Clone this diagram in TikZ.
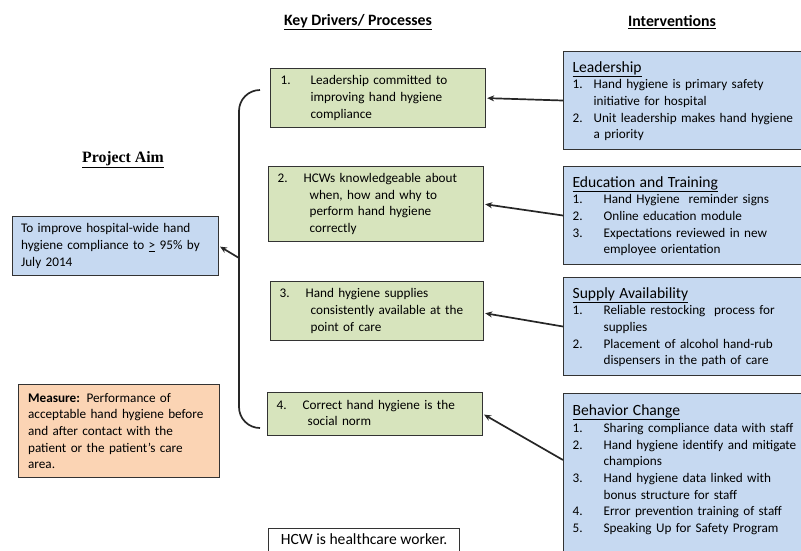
\documentclass[tikz,border=0pt]{standalone}
\usepackage{fontspec}
\setmainfont{Carlito}
\newfontfamily\aimfont{Liberation Serif}
\usepackage{tikz}
\usepackage{xcolor}
\usetikzlibrary{arrows.meta,positioning}
\definecolor{drvgreen}{HTML}{D7E4BD}
\definecolor{intblue}{HTML}{C6D9F1}
\definecolor{measorange}{HTML}{FBD4B4}
\definecolor{edgegray}{HTML}{333333}
\setlength{\parindent}{0pt}
\newcommand{\inttitle}[1]{\multicolumn{2}{@{}l@{}}{\rule{0pt}{15pt}\fontsize{15.6}{16.7}\selectfont\underline{#1}}}

\begin{document}
\begin{tikzpicture}[
    x=1pt, y=-1pt,
    >={Stealth[length=7pt,width=6pt]},
    font=\fontsize{13.2}{16.7}\selectfont,
    driveline/.style={->, line width=1.7pt, draw=black!85, shorten >=1pt},
    bracket/.style={line width=1.7pt, draw=black!85, rounded corners=21pt},
    heading/.style={font=\fontsize{15.8}{18}\selectfont\bfseries},
    box/.style={
      draw=edgegray,
      line width=1.2pt,
      anchor=north west,
      align=left,
      inner ysep=4pt,
      inner xsep=9pt
    },
    drvbox/.style={box, fill=drvgreen, text width=197pt},
    intbox/.style={box, fill=intblue, text width=250pt, inner ysep=5.5pt},
    aimbox/.style={box, fill=intblue}
  ]
    \useasboundingbox (0,0) rectangle (801,550);
    \clip (0,0) rectangle (801,550);

    % column headings
    \node[heading] (kdhead) at (358,22) {\underline{Key Drivers/ Processes}};
    \node[heading] (inthead) at (672,22) {\underline{Interventions}};
    \node[font=\aimfont\fontsize{15.8}{18}\selectfont\bfseries] (aimhead) at (123,160) {\underline{Project Aim}};

    % aim and measure
    \node[aimbox, text width=189pt, inner xsep=8.5pt, minimum height=59pt] (aim) at (12,216) {
      To improve hospital-wide hand\\
      hygiene compliance to \underline{>} 95\% by\\
      July 2014
    };
    \node[box, fill=measorange, text width=182pt, inner xsep=9.5pt, minimum height=93pt] (measure) at (18,384) {
      \textbf{Measure:} Performance of\\
      acceptable hand hygiene before\\
      and after contact with the\\
      patient or the patient’s care\\
      area.
    };

    % key drivers
    \node[drvbox, inner xsep=10pt, text width=195pt, minimum height=59pt] (drv1) at (270,68) {
      \begin{tabular}{@{}p{30pt}@{}l@{}}
        1. & Leadership committed to\\
           & improving hand hygiene\\
           & compliance
      \end{tabular}
    };
    \node[drvbox, minimum height=75pt] (drv2) at (268,166) {
      \begin{tabular}{@{}p{26pt}@{}l@{}}
        2. & HCWs knowledgeable about\\
           & \hspace{6pt}when, how and why to\\
           & \hspace{6pt}perform hand hygiene\\
           & \hspace{6pt}correctly
      \end{tabular}
    };
    \node[drvbox, text width=195pt, minimum height=59pt] (drv3) at (270,281) {
      \begin{tabular}{@{}p{26pt}@{}l@{}}
        3. & Hand hygiene supplies\\
           & \hspace{5pt}consistently available at the\\
           & \hspace{5pt}point of care
      \end{tabular}
    };
    \node[drvbox, minimum height=43pt] (drv4) at (267,392) {
      \begin{tabular}{@{}p{26pt}@{}l@{}}
        4. & Correct hand hygiene is the\\
           & \hspace{5pt}social norm
      \end{tabular}
    };

    % interventions
    \node[intbox, minimum height=94pt] (int1) at (563,51) {
      \begin{tabular}{@{}p{21pt}@{}l@{}}
        \inttitle{Leadership}\\
        1. & Hand hygiene is primary safety\\
           & initiative for hospital\\
        2. & Unit leadership makes hand hygiene\\
           & a priority
      \end{tabular}
    };
    \node[intbox, minimum height=95pt] (int2) at (563,166) {
      \begin{tabular}{@{}p{31pt}@{}l@{}}
        \inttitle{Education and Training}\\
        1. & Hand Hygiene\ \ reminder signs\\
        2. & Online education module\\
        3. & Expectations reviewed in new\\
           & employee orientation
      \end{tabular}
    };
    \node[intbox, minimum height=93pt] (int3) at (563,277) {
      \begin{tabular}{@{}p{31pt}@{}l@{}}
        \inttitle{Supply Availability}\\
        1. & Reliable restocking\ \ process for\\
           & supplies\\
        2. & Placement of alcohol hand-rub\\
           & dispensers in the path of care
      \end{tabular}
    };
    \node[intbox, inner ysep=7pt] (int4) at (563,393) {
      \begin{tabular}{@{}p{31pt}@{}l@{}}
        \inttitle{Behavior Change}\\
        1. & Sharing compliance data with staff\\
        2. & Hand hygiene identify and mitigate\\
           & champions\\
        3. & Hand hygiene data linked with\\
           & bonus structure for staff\\
        4. & Error prevention training of staff\\
        5. & Speaking Up for Safety Program\\
           & \\
      \end{tabular}
    };

    \node[box, fill=white, minimum width=191pt, inner ysep=5pt, text depth=22pt,
      font=\fontsize{15.6}{19.5}\selectfont] (hcw) at (268,528) {HCW is healthcare worker.};

    % bracket joining the drivers
    \coordinate (brtop) at (260,90);
    \coordinate (brmid) at (239,258);
    \coordinate (brbot) at (260,428);
    \draw[bracket] (brtop) -| (brmid) |- (brbot);

    \draw[driveline] (brmid) -- (aim.east);
    \draw[driveline] (int1.west) -- (drv1.east);
    \draw[driveline] (int2.west) -- (drv2.east);
    \draw[driveline] (int3.west) -- ([yshift=-2pt]drv3.east);
    \draw[driveline] ([yshift=-67pt]int4.north west) -- (drv4.east);
  \end{tikzpicture}
\end{document}
